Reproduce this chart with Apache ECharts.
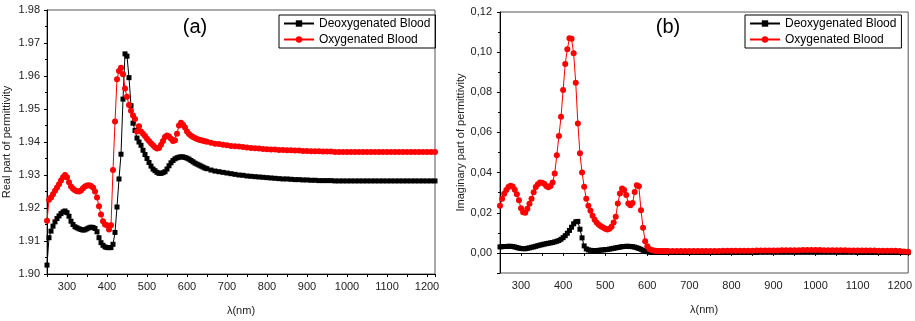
<!DOCTYPE html>
<html>
<head>
<meta charset="utf-8">
<title>Permittivity of blood</title>
<script src="https://cdn.jsdelivr.net/npm/echarts@6/dist/echarts.min.js"></script>
<style>
  html, body { margin: 0; padding: 0; background: #fff; }
  #chart { width: 915px; height: 321px; }
</style>
</head>
<body>
<div id="chart"></div>
<script>
// wavelength grid (nm): 5 nm steps up to 650, then 10 nm steps
const wavelengths = [
  250, 255, 260, 265, 270, 275, 280, 285, 290, 295,
  300, 305, 310, 315, 320, 325, 330, 335, 340, 345,
  350, 355, 360, 365, 370, 375, 380, 385, 390, 395,
  400, 405, 410, 415, 420, 425, 430, 435, 440, 445,
  450, 455, 460, 465, 470, 475, 480, 485, 490, 495,
  500, 505, 510, 515, 520, 525, 530, 535, 540, 545,
  550, 555, 560, 565, 570, 575, 580, 585, 590, 595,
  600, 605, 610, 615, 620, 625, 630, 635, 640, 645,
  650, 660, 670, 680, 690, 700, 710, 720, 730, 740,
  750, 760, 770, 780, 790, 800, 810, 820, 830, 840,
  850, 860, 870, 880, 890, 900, 910, 920, 930, 940,
  950, 960, 970, 980, 990, 1000, 1010, 1020, 1030, 1040,
  1050, 1060, 1070, 1080, 1090, 1100, 1110, 1120, 1130, 1140,
  1150, 1160, 1170, 1180, 1190, 1200, 1210, 1220
]

// (a) real part of permittivity
const deoxyReal = [
  1.9027, 1.9110, 1.9130, 1.9145, 1.9158, 1.9168, 1.9176, 1.9183, 1.9188, 1.9191,
  1.9186, 1.9175, 1.9160, 1.9150, 1.9143, 1.9140, 1.9137, 1.9135, 1.9133, 1.9134,
  1.9137, 1.9140, 1.9142, 1.9141, 1.9138, 1.9128, 1.9110, 1.9095, 1.9087, 1.9082,
  1.9080, 1.9080, 1.9080, 1.9090, 1.9126, 1.9203, 1.9288, 1.9363, 1.9530, 1.9667,
  1.9660, 1.9595, 1.9510, 1.9457, 1.9435, 1.9412, 1.9400, 1.9390, 1.9375, 1.9362,
  1.9350, 1.9338, 1.9327, 1.9318, 1.9313, 1.9308, 1.9305, 1.9305, 1.9307, 1.9310,
  1.9318, 1.9328, 1.9337, 1.9344, 1.9349, 1.9352, 1.9354, 1.9355, 1.9355, 1.9353,
  1.9351, 1.9348, 1.9344, 1.9340, 1.9336, 1.9333, 1.9330, 1.9327, 1.9324, 1.9321,
  1.9319, 1.9315, 1.9312, 1.9310, 1.9308, 1.9306, 1.9304, 1.9302, 1.9300, 1.9299,
  1.9297, 1.9296, 1.9295, 1.9294, 1.9293, 1.9292, 1.9291, 1.9290, 1.9289, 1.9288,
  1.9288, 1.9287, 1.9286, 1.9286, 1.9285, 1.9285, 1.9284, 1.9284, 1.9283, 1.9283,
  1.9283, 1.9283, 1.9282, 1.9282, 1.9282, 1.9282, 1.9282, 1.9282, 1.9282, 1.9282,
  1.9282, 1.9282, 1.9282, 1.9282, 1.9282, 1.9282, 1.9282, 1.9282, 1.9282, 1.9282,
  1.9282, 1.9282, 1.9282, 1.9282, 1.9282, 1.9282, 1.9282, 1.9282
]
const oxyReal = [
  1.9161, 1.9225, 1.9232, 1.9242, 1.9252, 1.9262, 1.9272, 1.9283, 1.9293, 1.9300,
  1.9293, 1.9278, 1.9265, 1.9258, 1.9254, 1.9251, 1.9250, 1.9253, 1.9260, 1.9265,
  1.9268, 1.9269, 1.9267, 1.9262, 1.9250, 1.9232, 1.9205, 1.9180, 1.9160, 1.9150,
  1.9148, 1.9135, 1.9148, 1.9315, 1.9462, 1.9590, 1.9615, 1.9625, 1.9605, 1.9562,
  1.9537, 1.9512, 1.9495, 1.9480, 1.9470, 1.9432, 1.9448, 1.9432, 1.9425, 1.9418,
  1.9410, 1.9403, 1.9396, 1.9390, 1.9384, 1.9380, 1.9382, 1.9392, 1.9403, 1.9415,
  1.9420, 1.9417, 1.9410, 1.9403, 1.9405, 1.9425, 1.9450, 1.9458, 1.9452, 1.9444,
  1.9432, 1.9424, 1.9419, 1.9415, 1.9412, 1.9409, 1.9407, 1.9405, 1.9404, 1.9402,
  1.9401, 1.9398, 1.9395, 1.9394, 1.9392, 1.9390, 1.9388, 1.9387, 1.9386, 1.9385,
  1.9383, 1.9382, 1.9381, 1.9380, 1.9379, 1.9378, 1.9377, 1.9377, 1.9376, 1.9376,
  1.9375, 1.9375, 1.9374, 1.9374, 1.9373, 1.9373, 1.9372, 1.9372, 1.9372, 1.9371,
  1.9371, 1.9371, 1.9370, 1.9370, 1.9370, 1.9370, 1.9370, 1.9370, 1.9370, 1.9370,
  1.9370, 1.9370, 1.9370, 1.9370, 1.9370, 1.9370, 1.9370, 1.9370, 1.9370, 1.9370,
  1.9370, 1.9370, 1.9370, 1.9370, 1.9370, 1.9370, 1.9370, 1.9370
]

// (b) imaginary part of permittivity
const deoxyImag = [
  0.0030, 0.0031, 0.0032, 0.0032, 0.0033, 0.0033, 0.0032, 0.0030, 0.0027, 0.0024,
  0.0022, 0.0021, 0.0021, 0.0023, 0.0025, 0.0028, 0.0030, 0.0033, 0.0036, 0.0039,
  0.0041, 0.0044, 0.0046, 0.0048, 0.0050, 0.0052, 0.0055, 0.0058, 0.0062, 0.0068,
  0.0076, 0.0086, 0.0098, 0.0112, 0.0128, 0.0145, 0.0155, 0.0157, 0.0118, 0.0075,
  0.0035, 0.0020, 0.0015, 0.0013, 0.0012, 0.0012, 0.0012, 0.0013, 0.0014, 0.0015,
  0.0016, 0.0017, 0.0019, 0.0021, 0.0023, 0.0025, 0.0027, 0.0029, 0.0031, 0.0032,
  0.0033, 0.0033, 0.0032, 0.0031, 0.0029, 0.0026, 0.0022, 0.0018, 0.0013, 0.0009,
  0.0006, 0.0004, 0.0003, 0.0002, 0.0002, 0.0002, 0.0002, 0.0002, 0.0002, 0.0002,
  0.0002, 0.0002, 0.0002, 0.0002, 0.0002, 0.0002, 0.0002, 0.0002, 0.0002, 0.0002,
  0.0002, 0.0002, 0.0002, 0.0002, 0.0002, 0.0002, 0.0002, 0.0002, 0.0002, 0.0002,
  0.0002, 0.0002, 0.0003, 0.0003, 0.0003, 0.0003, 0.0003, 0.0003, 0.0003, 0.0003,
  0.0003, 0.0003, 0.0003, 0.0003, 0.0003, 0.0003, 0.0003, 0.0003, 0.0003, 0.0003,
  0.0003, 0.0003, 0.0003, 0.0003, 0.0003, 0.0002, 0.0002, 0.0002, 0.0002, 0.0002,
  0.0002, 0.0002, 0.0002, 0.0002, 0.0002, 0.0002, 0.0002, 0.0002
]
const oxyImag = [
  0.0235, 0.0270, 0.0295, 0.0313, 0.0328, 0.0334, 0.0331, 0.0315, 0.0292, 0.0262,
  0.0222, 0.0203, 0.0200, 0.0220, 0.0245, 0.0270, 0.0302, 0.0328, 0.0342, 0.0351,
  0.0350, 0.0344, 0.0333, 0.0327, 0.0333, 0.0351, 0.0396, 0.0487, 0.0582, 0.0678,
  0.0811, 0.0941, 0.1015, 0.1069, 0.1067, 0.0994, 0.0848, 0.0645, 0.0496, 0.0400,
  0.0330, 0.0270, 0.0235, 0.0210, 0.0185, 0.0165, 0.0150, 0.0140, 0.0133, 0.0127,
  0.0120, 0.0117, 0.0120, 0.0130, 0.0152, 0.0180, 0.0246, 0.0296, 0.0321, 0.0313,
  0.0288, 0.0246, 0.0238, 0.0249, 0.0304, 0.0337, 0.0332, 0.0213, 0.0125, 0.0058,
  0.0033, 0.0020, 0.0015, 0.0012, 0.0011, 0.0010, 0.0010, 0.0010, 0.0010, 0.0010,
  0.0010, 0.0010, 0.0010, 0.0010, 0.0010, 0.0010, 0.0010, 0.0010, 0.0010, 0.0010,
  0.0010, 0.0010, 0.0010, 0.0011, 0.0011, 0.0011, 0.0011, 0.0011, 0.0011, 0.0011,
  0.0011, 0.0012, 0.0012, 0.0012, 0.0012, 0.0012, 0.0012, 0.0013, 0.0013, 0.0013,
  0.0013, 0.0013, 0.0014, 0.0014, 0.0014, 0.0014, 0.0014, 0.0013, 0.0013, 0.0013,
  0.0013, 0.0013, 0.0013, 0.0012, 0.0012, 0.0012, 0.0012, 0.0012, 0.0012, 0.0012,
  0.0011, 0.0011, 0.0011, 0.0011, 0.0011, 0.0010, 0.0007, 0.0006
]

const seriesNames = ['Deoxygenated Blood', 'Oxygenated Blood']
const panelTitles = ['(a)', '(b)']
const axisNames = ['Real part of permittivity', 'Imaginary part of permittivity']

const FONT = 'Liberation Sans'

const pairs = (ys) => wavelengths.map((w, i) => [w, ys[i]])

const chart = echarts.init(document.getElementById('chart'))

// shared x axis look
function xAxisFor(gridIndex, nameGap) {
  return {
    type: 'value',
    gridIndex: gridIndex,
    min: 250,
    max: 1220,
    interval: 50,
    name: 'λ(nm)',
    nameLocation: 'middle',
    nameGap: nameGap,
    nameTextStyle: { fontFamily: FONT, fontSize: 11, color: '#222' },
    axisLine: { lineStyle: { color: '#000', width: 1 } },
    axisTick: { length: 3, lineStyle: { color: '#000' } },
    axisLabel: {
      margin: 7,
      fontFamily: FONT,
      fontSize: 11,
      color: '#222',
      formatter: (v) => (v % 100 === 0 ? String(v) : '')
    },
    splitLine: { show: false }
  }
}

function seriesFor(xi, yi, deoxy, oxy) {
  return [
    {
      name: seriesNames[0],
      type: 'line',
      xAxisIndex: xi,
      yAxisIndex: yi,
      data: pairs(deoxy),
      symbol: 'rect',
      symbolSize: 5,
      showAllSymbol: true,
      lineStyle: { color: '#000', width: 1 },
      itemStyle: { color: '#000' },
      animation: false
    },
    {
      name: seriesNames[1],
      type: 'line',
      xAxisIndex: xi,
      yAxisIndex: yi,
      data: pairs(oxy),
      symbol: 'circle',
      symbolSize: 6,
      showAllSymbol: true,
      lineStyle: { color: '#ff0000', width: 1 },
      itemStyle: { color: '#ff0000' },
      animation: false
    }
  ]
}

function legendAt(left) {
  return {
    orient: 'vertical',
    left: left,
    top: 15,
    data: seriesNames,
    itemWidth: 30,
    itemHeight: 8,
    itemGap: 3,
    padding: [2, 5, 2, 4],
    borderColor: '#000',
    borderWidth: 1,
    selectedMode: false,
    textStyle: { fontFamily: FONT, fontSize: 12, color: '#000', lineHeight: 13 }
  }
}

const option = {
  backgroundColor: '#fff',
  animation: false,
  title: [
    { text: panelTitles[0], left: 190, top: 12, textAlign: 'center',
      textStyle: { fontFamily: FONT, fontSize: 20, fontWeight: 'normal', color: '#000' } },
    { text: panelTitles[1], left: 663, top: 12, textAlign: 'center',
      textStyle: { fontFamily: FONT, fontSize: 20, fontWeight: 'normal', color: '#000' } }
  ],
  legend: [legendAt(279), legendAt(745)],
  grid: [
    { left: 47, top: 10, width: 388, height: 267, show: true, borderColor: '#555', borderWidth: 1 },
    { left: 500, top: 12, width: 410, height: 261, show: true, borderColor: '#555', borderWidth: 1 }
  ],
  xAxis: [xAxisFor(0, 31), xAxisFor(1, 31)],
  yAxis: [
    {
      type: 'value',
      gridIndex: 0,
      min: 1.90,
      max: 1.98,
      interval: 0.01,
      name: axisNames[0],
      nameLocation: 'middle',
      nameGap: 35,
      nameTextStyle: { fontFamily: FONT, fontSize: 11, color: '#222' },
      axisLine: { show: true, lineStyle: { color: '#000' } },
      axisTick: { show: true, length: 3, lineStyle: { color: '#000' } },
      minorTick: { show: true, splitNumber: 2, length: 2, lineStyle: { color: '#000' } },
      axisLabel: { margin: 7, fontFamily: FONT, fontSize: 11, color: '#222',
        formatter: (v) => v.toFixed(2) },
      splitLine: { show: false }
    },
    {
      type: 'value',
      gridIndex: 1,
      min: -0.01,
      max: 0.12,
      splitNumber: 6,
      name: axisNames[1],
      nameLocation: 'middle',
      nameGap: 34,
      nameTextStyle: { fontFamily: FONT, fontSize: 11, color: '#222' },
      axisLine: { show: true, lineStyle: { color: '#000' } },
      axisTick: { show: true, length: 3, lineStyle: { color: '#000' } },
      minorTick: { show: true, splitNumber: 2, length: 2, lineStyle: { color: '#000' } },
      axisLabel: { margin: 8, fontFamily: FONT, fontSize: 11, color: '#222',
        formatter: (v) => (v < -1e-9 ? '' : v.toFixed(2).replace('.', ',')) },
      splitLine: { show: false }
    }
  ],
  series: [
    ...seriesFor(0, 0, deoxyReal, oxyReal),
    ...seriesFor(1, 1, deoxyImag, oxyImag)
  ]
}

chart.setOption(option)
</script>
</body>
</html>
